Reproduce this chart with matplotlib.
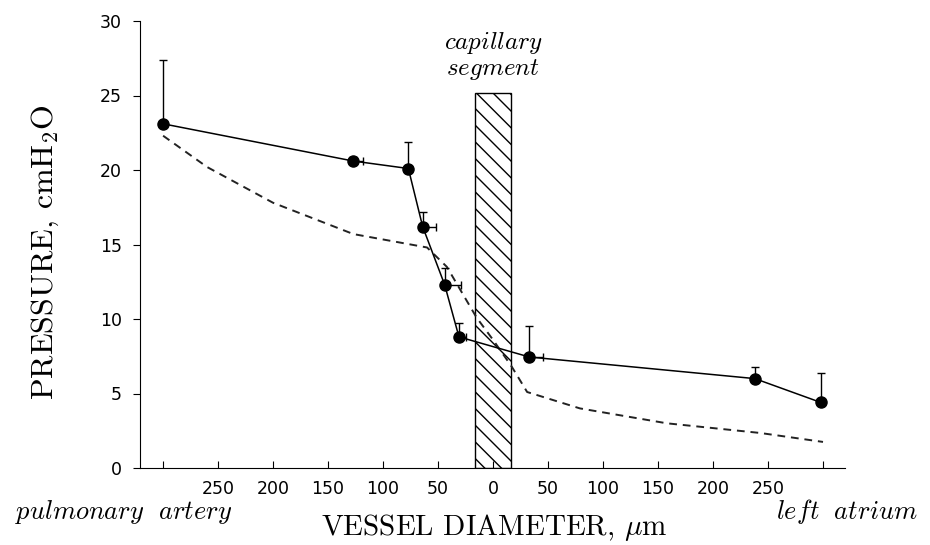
import numpy as np
import matplotlib.pyplot as plt

plt.rcParams['mathtext.fontset'] = 'cm'

# measured points (arterial side negative, venous side positive)
diam = [-300, -127, -77, -64, -44, -31, 33, 238, 298]
pres = [23.1, 20.6, 20.1, 16.2, 12.3, 8.8, 7.45, 6.0, 4.4]
err_up = [4.3, 0.3, 1.8, 1.0, 1.1, 0.9, 2.1, 0.8, 2.0]
err_right = [0, 9, 0, 12, 15, 6, 12, 3, 0]

# dashed (model) curve
model_x = [-300, -260, -200, -127, -60, -42, -15, 0, 17, 31, 79, 158, 243, 300]
model_y = [22.3, 20.2, 17.8, 15.7, 14.8, 13.5, 10.1, 8.6, 6.8, 5.1, 4.0, 3.0, 2.35, 1.75]

cap_lo, cap_hi, cap_top = -16, 16, 25.2

xticks = [-300, -250, -200, -150, -100, -50, 0, 50, 100, 150, 200, 250, 300]
xlabels = ['', '250', '200', '150', '100', '50', '0', '50', '100', '150', '200', '250', '']
yticks = [0, 5, 10, 15, 20, 25, 30]

fig = plt.figure(figsize=(9.3, 5.45), dpi=100)
ax = fig.add_axes([140 / 930, 1 - 468 / 545, 705 / 930, 447 / 545])

ax.bar(0, cap_top, width=cap_hi - cap_lo, bottom=0, facecolor='none',
       edgecolor='black', hatch='\\\\', linewidth=1.0, zorder=1)

ax.plot(model_x, model_y, color='#222222', ls=(0, (4, 3)), lw=1.4, zorder=2)
ax.errorbar(diam, pres, yerr=[np.zeros(len(err_up)), err_up],
            xerr=[np.zeros(len(err_right)), err_right],
            fmt='-o', color='black', ms=8, lw=1.1, elinewidth=1.0,
            capsize=3, capthick=1.0, zorder=3)

ax.set_xlim(-321, 320)
ax.set_ylim(0, 30)
ax.set_xticks(xticks)
ax.set_xticklabels(xlabels)
ax.set_yticks(yticks)
ax.spines['top'].set_visible(False)
ax.spines['right'].set_visible(False)
ax.tick_params(axis='x', direction='in', length=5, pad=9, labelsize=12.5)
ax.tick_params(axis='y', direction='out', length=5, pad=8, labelsize=12.5)

ax.text(0, cap_top + 0.7, r'$\mathit{capillary}$' + '\n' + r'$\mathit{segment}$',
        ha='center', va='bottom', fontsize=18, linespacing=1.0)

fig.text(15 / 930, 1 - 519 / 545, r'$\mathit{pulmonary\ \ artery}$', fontsize=19,
         ha='left', va='baseline')
fig.text(918 / 930, 1 - 519 / 545, r'$\mathit{left\ \ atrium}$', fontsize=19,
         ha='right', va='baseline')
fig.text(494 / 930, 1 - 535 / 545, r'VESSEL DIAMETER, $\mu$m', fontsize=21,
         family='cmr10', ha='center', va='baseline')
fig.text(45 / 930, 1 - 252 / 545, r'PRESSURE, cmH$_2$O', fontsize=23,
         family='cmr10', rotation=90, ha='center', va='center')

fig.savefig('out.png', dpi=100)
